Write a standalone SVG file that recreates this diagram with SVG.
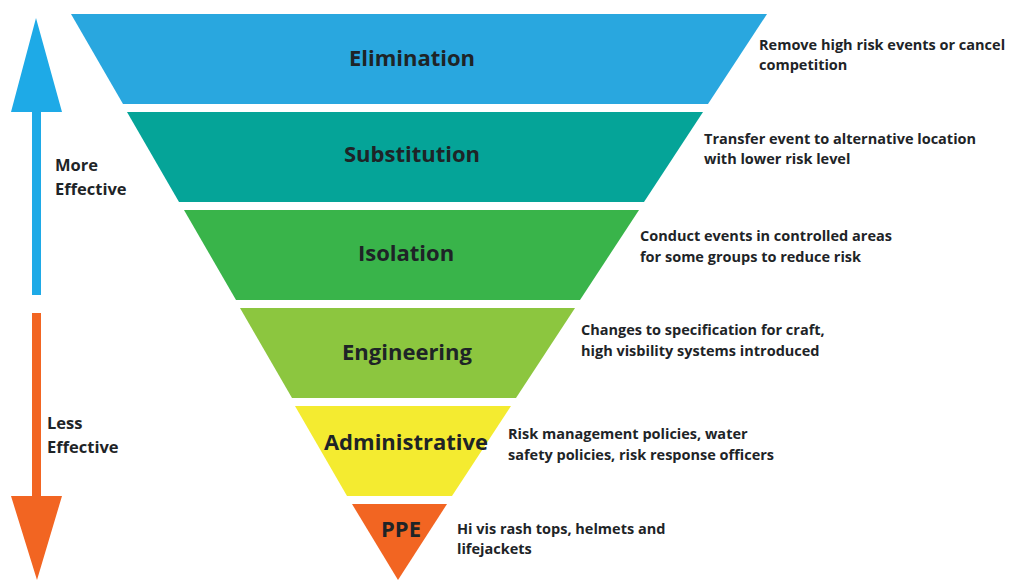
<svg xmlns="http://www.w3.org/2000/svg" width="1009" height="581" viewBox="0 0 1009 581">
<style>
.t{font-family:"Open Sans",Lato,"Liberation Sans",sans-serif;font-weight:700;fill:#1e2427;}
.title{font-size:22px;text-anchor:middle;}
.desc{font-size:14.5px;}
.side{font-size:16.5px;}
</style>
<rect width="1009" height="581" fill="#ffffff"/>
<g id="arrows">
<polygon id="arrow-up" points="36,18 62,112 41,112 41,295 32,295 32,112 11,112" fill="#1eaae7"/>
<polygon id="arrow-down" points="32,313 41,313 41,496 62,496 37,580 11,496 32,496" fill="#f26522"/>
</g>
<g id="elimination">
<polygon points="71,14 767,14 708,104 123,104" fill="#29a7df"/>
<text class="t title" x="412" y="66">Elimination</text>
<text class="t desc" x="759" y="50">Remove high risk events or cancel</text>
<text class="t desc" x="759" y="70">competition</text>
</g>
<g id="substitution">
<polygon points="127,112 703,112 644,202 179,202" fill="#05a498"/>
<text class="t title" x="412" y="162">Substitution</text>
<text class="t desc" x="704" y="144">Transfer event to alternative location</text>
<text class="t desc" x="704" y="164">with lower risk level</text>
</g>
<g id="isolation">
<polygon points="184,210 639,210 580,300 236,300" fill="#39b44a"/>
<text class="t title" x="406" y="261">Isolation</text>
<text class="t desc" x="640" y="241">Conduct events in controlled areas</text>
<text class="t desc" x="640" y="262">for some groups to reduce risk</text>
</g>
<g id="engineering">
<polygon points="240,308 575,308 516,398 292,398" fill="#8cc63f"/>
<text class="t title" x="407" y="360">Engineering</text>
<text class="t desc" x="581" y="335">Changes to specification for craft,</text>
<text class="t desc" x="581" y="356">high visbility systems introduced</text>
</g>
<g id="administrative">
<polygon points="295,406 511,406 452,496 347,496" fill="#f4eb30"/>
<text class="t title" x="406" y="450">Administrative</text>
<text class="t desc" x="508" y="439">Risk management policies, water</text>
<text class="t desc" x="508" y="460">safety policies, risk response officers</text>
</g>
<g id="ppe">
<polygon points="352,504 447,504 398,580" fill="#f26522"/>
<text class="t title" x="401" y="537">PPE</text>
<text class="t desc" x="457" y="534">Hi vis rash tops, helmets and</text>
<text class="t desc" x="457" y="554">lifejackets</text>
</g>
<g id="labels">
<text class="t side" x="55" y="171">More</text>
<text class="t side" x="55" y="195">Effective</text>
<text class="t side" x="47" y="429">Less</text>
<text class="t side" x="47" y="453">Effective</text>
</g>
</svg>
